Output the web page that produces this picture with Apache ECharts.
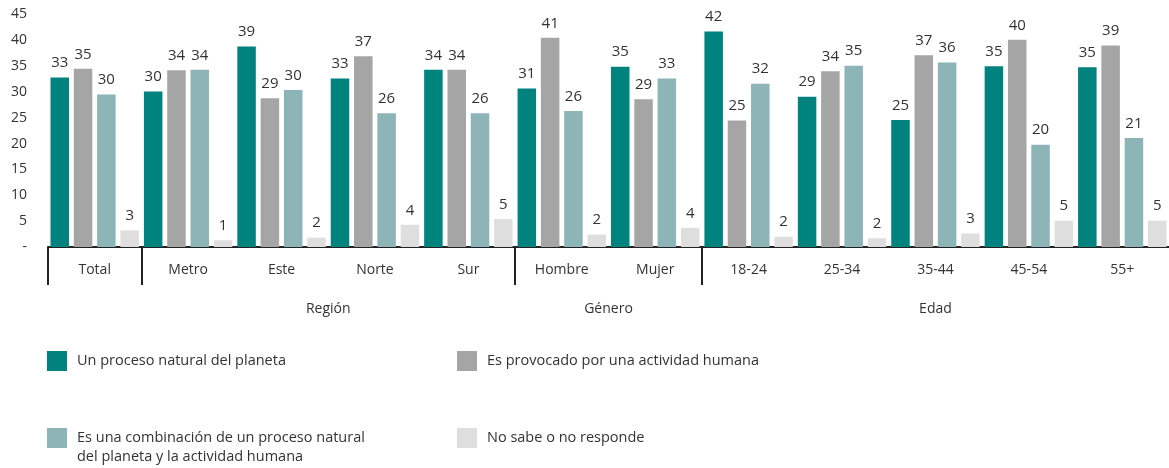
<!DOCTYPE html>
<html>
<head>
<meta charset="utf-8">
<script src="https://cdn.jsdelivr.net/npm/echarts@6/dist/echarts.min.js"></script>
<style>
html,body{margin:0;padding:0;background:#fff;}
#chart{width:1169px;height:468px;}
</style>
</head>
<body>
<div id="chart"></div>
<script>
// ---- Data ----
var categories = ['Total','Metro','Este','Norte','Sur','Hombre','Mujer','18-24','25-34','35-44','45-54','55+'];
var seriesNames = [
  'Un proceso natural del planeta',
  'Es provocado por una actividad humana',
  'Es una combinación de un proceso natural del planeta y la actividad humana',
  'No sabe o no responde'
];
// legend text as printed (third item wraps onto two lines)
var legendLines = [
  ['Un proceso natural del planeta'],
  ['Es provocado por una actividad humana'],
  ['Es una combinación de un proceso natural', 'del planeta y la actividad humana'],
  ['No sabe o no responde']
];
var natural      = [32.8, 30.1, 38.8, 32.6, 34.3, 30.7, 34.9, 41.7, 29.1, 24.6, 35.0, 34.8];
var humana       = [34.5, 34.2, 28.8, 36.9, 34.3, 40.5, 28.6, 24.5, 34.0, 37.1, 40.1, 39.0];
var combinacion  = [29.5, 34.3, 30.4, 25.9, 25.9, 26.3, 32.6, 31.6, 35.1, 35.7, 19.8, 21.1];
var noSabe       = [3.2, 1.3, 1.8, 4.3, 5.4, 2.4, 3.7, 2.0, 1.7, 2.6, 5.1, 5.1];
var groupNames     = ['Región', 'Género', 'Edad'];
var groupCenters   = [3, 6, 9.5];      // in category-index units
var groupDividers  = [0, 1, 5, 7];     // category boundaries
var yTicks = [0, 5, 10, 15, 20, 25, 30, 35, 40, 45];

var colors = ['#00827F', '#A5A5A5', '#8DB4B6', '#DEDEDE'];
var FONT = '"Open Sans", sans-serif';
var TXT = '#333333';

var chart = echarts.init(document.getElementById('chart'), null, {renderer: 'canvas'});

function mkSeries(idx, data) {
  return {
    name: seriesNames[idx],
    type: 'bar',
    xAxisIndex: 0,
    yAxisIndex: 0,
    data: data,
    barWidth: 18.5,
    barGap: '26%',
    itemStyle: {color: colors[idx]},
    label: {
      show: true,
      position: 'top',
      distance: 7,
      fontFamily: FONT,
      fontSize: 15,
      color: TXT,
      formatter: function (p) { return Math.round(p.value); }
    },
    emphasis: {disabled: true},
    animation: false
  };
}

function mkLegend(idx, left, top) {
  return {
    data: [seriesNames[idx]],
    left: left,
    top: top,
    padding: 0,
    itemWidth: 20,
    itemHeight: 20,
    icon: 'rect',
    selectedMode: false,
    formatter: function () { return legendLines[idx][0]; },
    textStyle: {
      fontFamily: FONT,
      fontSize: 14.5,
      color: TXT,
      padding: [0, 0, 0, 5]
    }
  };
}

var option = {
  backgroundColor: '#fff',
  animation: false,
  grid: {left: 48, right: 0, top: 14.5, bottom: 221, containLabel: false},
  legend: [
    mkLegend(0, 47, 351),
    mkLegend(1, 457, 351),
    mkLegend(2, 47, 428),
    mkLegend(3, 457, 428)
  ],
  graphic: [
    {
      type: 'text',
      left: 77,
      top: 449,
      silent: true,
      style: {
        text: legendLines[2][1],
        fontFamily: FONT,
        fontSize: 14.5,
        fill: TXT
      }
    }
  ],
  xAxis: [
    {
      type: 'category',
      data: categories,
      position: 'bottom',
      axisLine: {show: true, lineStyle: {color: '#222', width: 2}},
      axisTick: {show: false},
      axisLabel: {fontFamily: FONT, fontSize: 14, color: TXT, margin: 16, interval: 0}
    },
    {
      type: 'value',
      min: 0,
      max: 12,
      position: 'bottom',
      offset: 0,
      axisLine: {show: false},
      splitLine: {show: false},
      axisTick: {show: true, customValues: groupDividers, length: 38, lineStyle: {color: '#222', width: 2}},
      axisLabel: {
        show: true,
        customValues: groupCenters,
        margin: 55,
        fontFamily: FONT, fontSize: 14, color: TXT,
        formatter: function (v) {
          var i = groupCenters.indexOf(v);
          return i >= 0 ? groupNames[i] : '';
        }
      }
    }
  ],
  yAxis: {
    type: 'value',
    min: yTicks[0],
    max: yTicks[yTicks.length - 1],
    interval: 5,
    axisLine: {show: false},
    axisTick: {show: false},
    splitLine: {show: false},
    axisLabel: {
      fontFamily: FONT, fontSize: 14, color: TXT, margin: 21,
      formatter: function (v) { return v === 0 ? '-' : v; }
    }
  },
  series: [
    mkSeries(0, natural),
    mkSeries(1, humana),
    mkSeries(2, combinacion),
    mkSeries(3, noSabe)
  ]
};
chart.setOption(option);
</script>
</body>
</html>
